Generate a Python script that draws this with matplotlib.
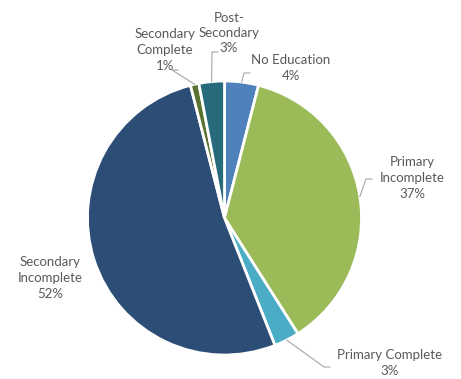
import numpy as np
import matplotlib.pyplot as plt

# Education level shares (%)
categories = ["No Education", "Primary Incomplete", "Primary Complete",
              "Secondary Incomplete", "Secondary Complete", "Post-Secondary"]
shares = [4, 37, 3, 52, 1, 3]
label_text = ["No Education\n4%", "Primary\nIncomplete\n37%", "Primary Complete\n3%",
              "Secondary\nIncomplete\n52%", "Secondary\nComplete\n1%", "Post-\nSecondary\n3%"]
colors = ["#4F81BD", "#9BBB59", "#4BACC6", "#2C4D75", "#5A7230", "#276A7C"]

# label centres and leader-line ends in pixel coords (y measured from top)
label_pos = [(291, 68), (412, 178), (390, 363), (50, 278), (165, 50), (229, 33)]
leader_end = [(250, 73), (372, 179), (330, 367), None, (178, 70), (218, 52)]

W, H = 461, 379
cx, cy, r = 224.5, 218, 137

fig = plt.figure(figsize=(W / 100, H / 100), dpi=100)
ax = fig.add_axes([0, 0, 1, 1])
wedges, _ = ax.pie(shares, colors=colors, startangle=90, counterclock=False,
                   center=(cx, H - cy), radius=r, frame=True,
                   wedgeprops=dict(edgecolor="white", linewidth=2))
ax.set_xlim(0, W)
ax.set_ylim(0, H)
ax.axis("off")

for w, txt, (tx, ty), end in zip(wedges, label_text, label_pos, leader_end):
    ax.text(tx, H - ty, txt, ha="center", va="center", fontsize=9.5,
            family="Lato", color="#595959", linespacing=1.35)
    if end is None:
        continue
    ang = np.deg2rad((w.theta1 + w.theta2) / 2)
    px = cx + r * np.cos(ang)
    py = H - cy + r * np.sin(ang)
    ex, ey = end
    ax.plot([px, ex - 6, ex], [py, H - ey, H - ey], color="#A6A6A6", lw=0.8)

fig.savefig("out.png", dpi=100)
